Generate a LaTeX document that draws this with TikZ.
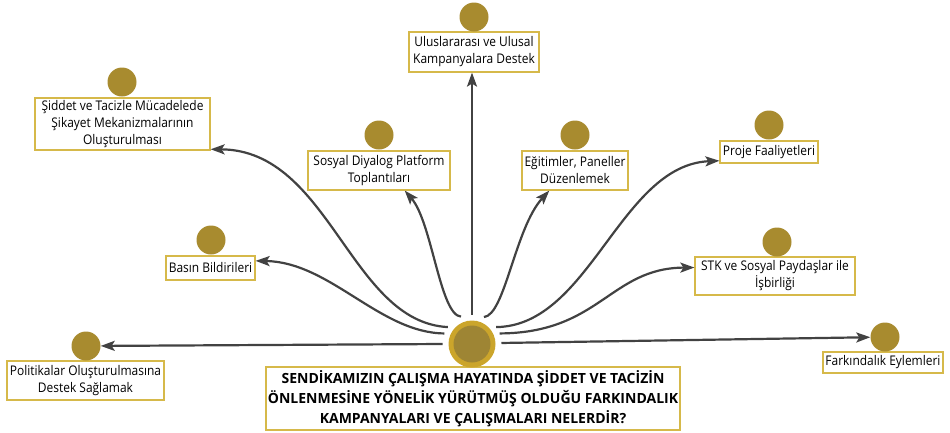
\documentclass[tikz,border=0pt]{standalone}
\usepackage{fontspec}
\setmainfont{Open Sans}
\newfontfamily\topicfont[FakeStretch=0.9]{Open Sans}
\usetikzlibrary{arrows.meta}

\definecolor{dot}{HTML}{A88B2F}
\definecolor{frame}{HTML}{D6B94A}
\definecolor{hubring}{HTML}{CBA52B}
\definecolor{hubcore}{HTML}{9E8534}
\definecolor{linkgray}{HTML}{424242}

\tikzset{
  topic/.style={draw=frame, line width=1.2pt, fill=white, inner sep=0pt,
    align=center, text=black, font=\topicfont\fontsize{13.3}{17}\selectfont},
  question/.style={draw=frame, line width=1.4pt, fill=white, inner sep=0pt,
    align=center, text=black, font=\bfseries\fontsize{14}{19.7}\selectfont},
  dotmark/.style={circle, fill=dot, minimum size=29pt, inner sep=0pt},
  link/.style={draw=linkgray, line width=2.2pt,
    -{Stealth[length=14pt,width=10pt,inset=3pt]}},
}

\begin{document}
\begin{tikzpicture}[x=1pt,y=-1pt]
\useasboundingbox (0,0) rectangle (950,432);

% central question and hub
\node[question, minimum width=414pt, minimum height=63pt] (q) at (473,398.5)
  {SENDİKAMIZIN ÇALIŞMA HAYATINDA ŞİDDET VE TACİZİN\\
   ÖNLENMESİNE YÖNELİK YÜRÜTMÜŞ OLDUĞU FARKINDALIK\\
   KAMPANYALARI VE ÇALIŞMALARI NELERDİR?};
\node[circle, fill=hubring, minimum size=47pt, inner sep=0pt, outer sep=6pt] (hub) at (472,344) {};
\node[circle, fill=hubcore, minimum size=37pt, inner sep=0pt] (hubin) at (hub.center) {};

% answer boxes with their markers
\node[topic, minimum width=130pt, minimum height=40pt] (ul) at (474,52)
  {Uluslararası ve Ulusal\\Kampanyalara Destek};
\node[dotmark] (ulc) at (474,17) {};

\node[topic, minimum width=175pt, minimum height=52pt] (sid) at (122.5,124)
  {Şiddet ve Tacizle Mücadelede\\Şikayet Mekanizmalarının\\Oluşturulması};
\node[dotmark] (sidc) at (122,82) {};

\node[topic, minimum width=157pt, minimum height=39pt] (pol) at (85.5,380.5)
  {Politikalar Oluşturulmasına\\Destek Sağlamak};
\node[dotmark] (polc) at (86,346) {};

\node[topic, minimum width=120pt, minimum height=21pt] (fark) at (883,362.5)
  {Farkındalık Eylemleri};
\node[dotmark] (farkc) at (885,337) {};

\node[topic, minimum width=89pt, minimum height=24pt] (bas) at (210.5,268)
  {Basın Bildirileri};
\node[dotmark] (basc) at (211,240) {};

\node[topic, minimum width=142pt, minimum height=39pt] (soc) at (379,170.5)
  {Sosyal Diyalog Platform\\Toplantıları};
\node[dotmark] (socc) at (379,135) {};

\node[topic, minimum width=106pt, minimum height=39pt] (edu) at (575,170.5)
  {Eğitimler, Paneller\\Düzenlemek};
\node[dotmark] (educ) at (575,135) {};

\node[topic, minimum width=98pt, minimum height=22pt] (proj) at (769,152)
  {Proje Faaliyetleri};
\node[dotmark] (projc) at (769,125) {};

\node[topic, minimum width=160pt, minimum height=38pt] (stk) at (775,276)
  {STK ve Sosyal Paydaşlar ile\\İşbirliği};
\node[dotmark] (stkc) at (777,242) {};

% connectors from the hub
\draw[link] (hub.90) -- (hub.90 |- ul.south);
\draw[link] (hub.145) .. controls (350,322) and (330,150) .. (sid.-16);
\draw[link] (hub.159) .. controls (380,333) and (330,262) .. (bas.9);
\draw[link] (hub.180) -- (polc);
\draw[link] (hub.112) .. controls (440,315) and (432,222) .. (soc.-38);
\draw[link] (hub.66) .. controls (505,315) and (515,228) .. (edu.-142);
\draw[link] (hub.35) .. controls (590,326) and (620,165) .. (proj.190);
\draw[link] (hub.21) .. controls (600,333) and (610,268) .. (stk.174);
\draw[link] (hub.2) -- (farkc);
\end{tikzpicture}
\end{document}
